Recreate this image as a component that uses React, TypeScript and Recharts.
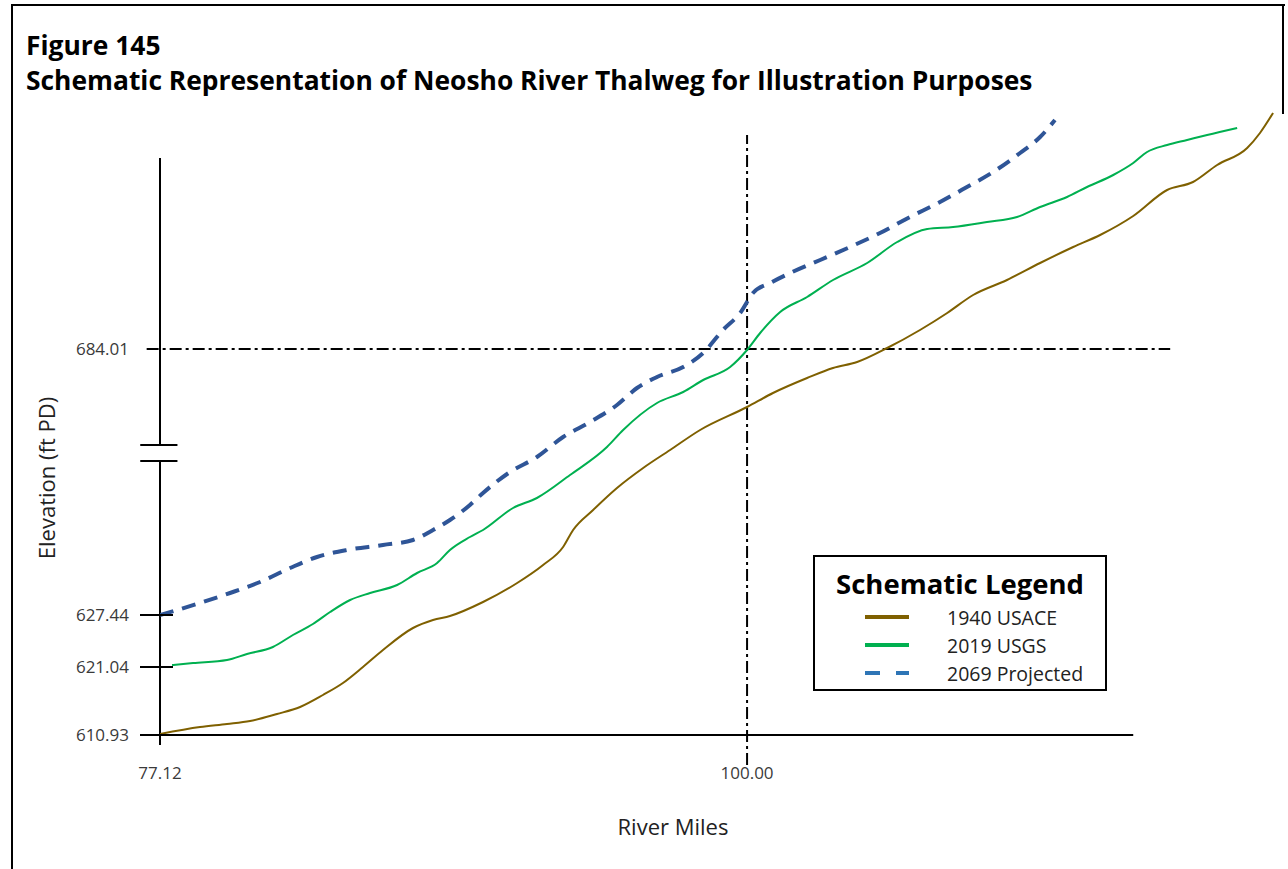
import React from "react";
import { LineChart, Line, XAxis, YAxis, ReferenceLine, Legend } from "recharts";

// Schematic chart: the elevation axis is broken, so heights are kept in
// schematic units above the 610.93 datum, and the ticks carry the real labels.
const X_TICKS = [77.12, 100.0];
const Y_TICKS = [0, 68, 120, 386];
const Y_TICK_LABELS = ["610.93", "621.04", "627.44", "684.01"];

const USACE_1940_MILES = [
  77.12, 78.68, 79.73, 80.63, 81.68, 82.58, 83.47, 84.25, 85.03, 85.81, 86.98, 87.76,
  88.42, 89.71, 91.04, 92.05, 92.83, 93.22, 94.0, 94.93, 95.95, 97.0, 98.17, 100.0,
  101.01, 102.34, 103.35, 104.29, 105.46, 106.74, 107.8, 108.81, 110.13, 111.42, 112.71,
  113.76, 115.05, 116.37, 117.38, 118.32, 119.49, 119.99, 120.5,
];
const USACE_1940_H = [
  1, 8, 11, 14, 21, 28, 40, 52, 68, 85, 107, 115,
  119, 133, 152, 170, 188, 205, 225, 247, 267, 285, 305, 328,
  342, 357, 367, 373, 387, 405, 422, 440, 455, 472, 488,
  500, 519, 545, 553, 570, 587, 602, 622,
];

const USGS_2019_MILES = [
  77.59, 78.41, 79.73, 80.51, 81.52, 82.3, 83.08, 83.75, 84.53, 85.31, 86.36, 87.14,
  87.92, 88.42, 89.2, 89.71, 90.88, 91.81, 93.1, 94.54, 95.17, 96.49, 97.51, 98.29,
  99.34, 100.0, 100.51, 101.29, 102.34, 103.35, 104.68, 105.85, 107.02, 108.03, 109.35,
  110.52, 111.42, 112.47, 113.25, 114.27, 115.05, 115.59, 116.37, 117.15, 117.93, 119.1,
];
const USGS_2019_H = [
  70, 72, 75, 81, 88, 100, 111, 123, 135, 142, 150, 162,
  172, 185, 198, 205, 227, 237, 260, 288, 305, 332, 343, 355,
  368, 385, 402, 423, 438, 455, 472, 493, 506, 508, 513,
  518, 528, 538, 548, 560, 572, 583, 590, 595, 600, 607,
];

const PROJ_2069_MILES = [
  77.12, 78.68, 79.85, 81.02, 82.19, 83.24, 84.41, 85.81, 86.98, 87.76, 88.42, 89.2,
  89.71, 90.76, 91.81, 92.83, 93.88, 94.93, 95.71, 96.49, 97.51, 98.29, 99.06, 99.73,
  100.23, 100.9, 101.68, 102.85, 104.01, 105.18, 106.35, 107.52, 108.57, 109.59, 110.64,
  111.42, 112.0,
];
const PROJ_2069_H = [
  120, 132, 142, 153, 167, 178, 185, 190, 195, 205, 215, 230,
  242, 263, 278, 298, 313, 330, 347, 358, 368, 382, 405, 422,
  442, 452, 462, 475, 488, 502, 518, 533, 548, 563, 582,
  598, 615,
];

const toPoints = (miles: number[], h: number[]) => miles.map((m, i) => ({ mile: m, h: h[i] }));

const FONT = "'Open Sans', 'Noto Sans', sans-serif";
const INK = "#3a3a3a";

const YTick = (props: any) => {
  const { x, y, payload } = props;
  const i = Y_TICKS.indexOf(payload.value);
  return (
    <g>
      {payload.value !== 386 && (
        <line x1={x - 20} x2={x + 13} y1={y} y2={y} stroke="#000" strokeWidth={2} />
      )}
      <text x={x - 31} y={y} dy="0.36em" textAnchor="end" fontFamily={FONT} fontSize={17} fill={INK}>
        {Y_TICK_LABELS[i]}
      </text>
    </g>
  );
};

const SchematicLegend = (props: any) => {
  const items = props.payload || [];
  return (
    <div
      style={{
        width: 290,
        height: 132,
        border: "2px solid #000",
        background: "#fff",
        fontFamily: FONT,
        boxSizing: "content-box",
      }}
    >
      <div style={{ textAlign: "center", fontWeight: 700, fontSize: 27.5, color: "#000", marginTop: 10, lineHeight: "34px" }}>
        Schematic Legend
      </div>
      <div style={{ marginTop: 2 }}>
        {items.map((it: any) => {
          const dashed = !!it.payload?.strokeDasharray;
          return (
            <div key={it.value} style={{ display: "flex", alignItems: "center", height: 28 }}>
              <svg width={132} height={10}>
                <line
                  x1={50}
                  x2={94}
                  y1={5}
                  y2={5}
                  stroke={dashed ? "#2e75b6" : it.color}
                  strokeWidth={4}
                  strokeDasharray={dashed ? "15 16" : undefined}
                />
              </svg>
              <span style={{ fontSize: 19.5, color: "#222" }}>{it.value}</span>
            </div>
          );
        })}
      </div>
    </div>
  );
};

const dashDot = "12 4 3 4";

export default function App() {
  return (
    <div style={{ position: "absolute", left: 0, top: 0, width: 1288, height: 869, background: "#fff", overflow: "hidden" }}>
      {/* frame */}
      <div style={{ position: "absolute", left: 11, top: 4, width: 1272, height: 900, borderLeft: "2px solid #000", borderTop: "2px solid #000" }} />
      <div style={{ position: "absolute", left: 1282, top: 4, width: 2, height: 110, background: "#000" }} />

      <div style={{ position: "absolute", left: 26, top: 28, fontFamily: FONT, fontWeight: 700, fontSize: 26.4, color: "#000", lineHeight: "35px" }}>
        <div>Figure 145</div>
        <div>Schematic Representation of Neosho River Thalweg for Illustration Purposes</div>
      </div>

      <div
        style={{
          position: "absolute",
          left: 46,
          top: 478,
          transform: "translate(-50%, -50%) rotate(-90deg)",
          fontFamily: FONT,
          fontSize: 22,
          color: "#222",
          whiteSpace: "nowrap",
        }}
      >
        Elevation (ft PD)
      </div>
      <div
        style={{
          position: "absolute",
          left: 673,
          top: 826,
          transform: "translate(-50%, -50%)",
          fontFamily: FONT,
          fontSize: 22,
          color: "#222",
          whiteSpace: "nowrap",
        }}
      >
        River Miles
      </div>

      <div style={{ position: "absolute", left: 0, top: 0 }}>
        <LineChart width={1288} height={869} margin={{ top: 100, right: 8, bottom: 84, left: 100 }}>
          <XAxis
            dataKey="mile"
            type="number"
            domain={[77.12, 120.77]}
            allowDataOverflow
            ticks={X_TICKS}
            tickFormatter={(v: number) => v.toFixed(2)}
            axisLine={false}
            tickLine={false}
            tickSize={0}
            tickMargin={32}
            height={50}
            tick={{ fontFamily: FONT, fontSize: 17, fill: INK }}
          />
          <YAxis
            type="number"
            domain={[0, 635]}
            allowDataOverflow
            ticks={Y_TICKS}
            axisLine={false}
            tickLine={false}
            tickSize={0}
            tickMargin={0}
            width={60}
            tick={<YTick />}
          />

          {/* axes drawn as segments so the elevation axis can be broken */}
          <ReferenceLine segment={[{ x: 76.6, y: 0 }, { x: 115.05, y: 0 }]} stroke="#000" strokeWidth={2} ifOverflow="visible" />
          <ReferenceLine segment={[{ x: 77.12, y: -10 }, { x: 77.12, y: 274 }]} stroke="#000" strokeWidth={2} ifOverflow="visible" />
          <ReferenceLine segment={[{ x: 77.12, y: 290 }, { x: 77.12, y: 577 }]} stroke="#000" strokeWidth={2} ifOverflow="visible" />
          <ReferenceLine segment={[{ x: 76.35, y: 290 }, { x: 77.8, y: 290 }]} stroke="#000" strokeWidth={2} ifOverflow="visible" />
          <ReferenceLine segment={[{ x: 76.35, y: 274 }, { x: 77.8, y: 274 }]} stroke="#000" strokeWidth={2} ifOverflow="visible" />

          <ReferenceLine segment={[{ x: 100, y: -30 }, { x: 100, y: 600 }]} stroke="#000" strokeWidth={2} strokeDasharray={dashDot} ifOverflow="visible" />
          <ReferenceLine segment={[{ x: 76.6, y: 386 }, { x: 116.49, y: 386 }]} stroke="#000" strokeWidth={2} strokeDasharray={dashDot} ifOverflow="visible" />

          <Line
            data={toPoints(USACE_1940_MILES, USACE_1940_H)}
            dataKey="h"
            name="1940 USACE"
            type="monotone"
            stroke="#7f6000"
            strokeWidth={2}
            dot={false}
            isAnimationActive={false}
          />
          <Line
            data={toPoints(USGS_2019_MILES, USGS_2019_H)}
            dataKey="h"
            name="2019 USGS"
            type="monotone"
            stroke="#00b050"
            strokeWidth={2}
            dot={false}
            isAnimationActive={false}
          />
          <Line
            data={toPoints(PROJ_2069_MILES, PROJ_2069_H)}
            dataKey="h"
            name="2069 Projected"
            type="monotone"
            stroke="#2f5597"
            strokeWidth={4}
            strokeDasharray="14 9"
            dot={false}
            isAnimationActive={false}
          />

          <Legend
            layout="horizontal"
            verticalAlign="middle"
            align="center"
            content={<SchematicLegend />}
            wrapperStyle={{ left: 813, top: 555, width: 294, height: 136 }}
          />
        </LineChart>
      </div>
    </div>
  );
}
